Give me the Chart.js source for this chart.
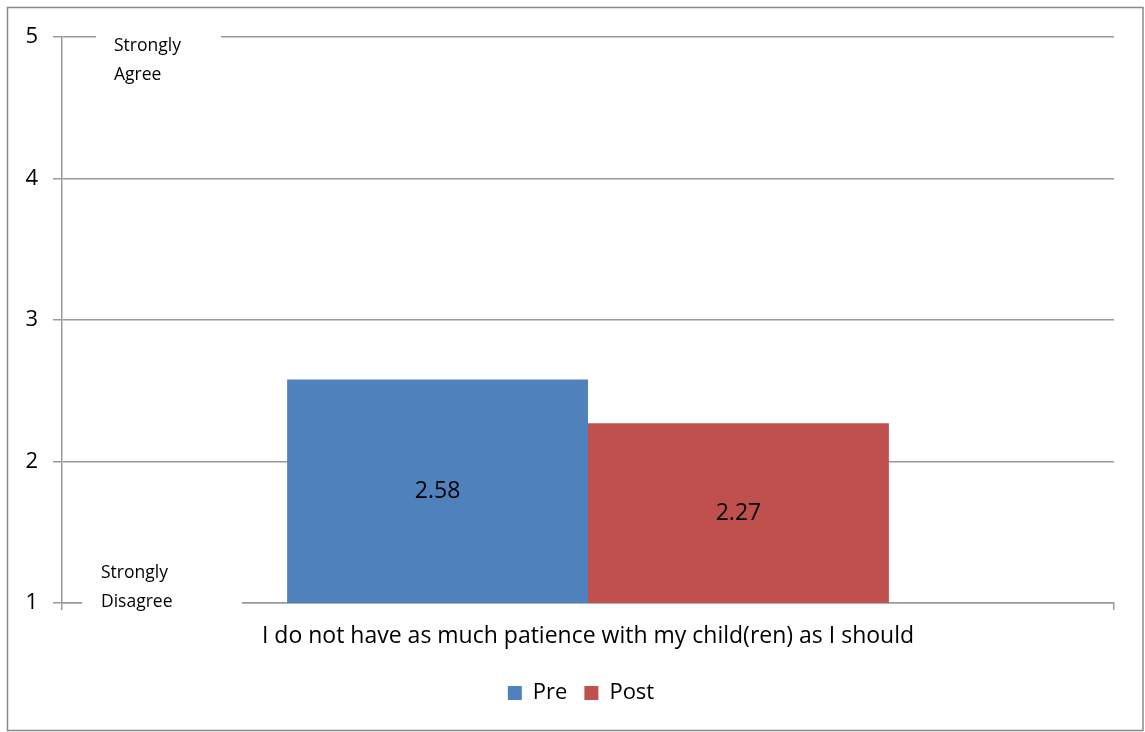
<!DOCTYPE html>
<html>
<head>
<meta charset="utf-8">
<script src="https://cdn.jsdelivr.net/npm/chart.js@4"></script>
<style>
  body { margin: 0; background: #fff; }
  #wrap { position: absolute; left: 0; top: 0; width: 1145px; height: 732px; }
</style>
</head>
<body>
<div id="wrap"><canvas id="chart"></canvas></div>
<script>
// data
var categories = ['I do not have as much patience with my child(ren) as I should'];
var seriesNames = ['Pre', 'Post'];
var preValues = [2.58];
var postValues = [2.27];
var yTicks = [1, 2, 3, 4, 5];
var scaleNotes = [
	{ lines: ['Strongly', 'Agree'], value: 5 },
	{ lines: ['Strongly', 'Disagree'], value: 1 }
];

var FONT = '"Open Sans", "Noto Sans", sans-serif';
var gridGray = '#9a9a9a';

// outer frame, like the office chart border
var framePlugin = {
	id: 'frame',
	beforeDraw: function(chart) {
		var ctx = chart.ctx;
		ctx.save();
		ctx.strokeStyle = '#8a8a8a';
		ctx.lineWidth = 1.5;
		ctx.strokeRect(7.5, 7.5, 1135.5, 723);
		ctx.restore();
	}
};

// legend in the original sits under the plot centre, not the canvas centre
var legendShift = {
	id: 'legendShift',
	afterLayout: function(chart) {
		var lg = chart.legend;
		if (lg) {
			lg.left += 24;
			lg.right += 24;
		}
	}
};

// value written in the middle of each bar (bars run below the axis min, so use the chart bottom)
var barLabels = {
	id: 'barLabels',
	afterDatasetsDraw: function(chart) {
		var ctx = chart.ctx;
		var bottom = chart.chartArea.bottom;
		ctx.save();
		ctx.font = '23px ' + FONT;
		ctx.fillStyle = '#000';
		ctx.textAlign = 'center';
		ctx.textBaseline = 'middle';
		chart.data.datasets.forEach(function(ds, i) {
			chart.getDatasetMeta(i).data.forEach(function(bar, j) {
				var mid = (bar.y + bottom) / 2;
				ctx.fillText(ds.data[j].toFixed(2), bar.x, mid);
			});
		});
		ctx.restore();
	}
};

// "Strongly Agree" / "Strongly Disagree" boxes sitting on the grid lines
var notes = {
	id: 'notes',
	afterDraw: function(chart) {
		var ctx = chart.ctx;
		var y = chart.scales.y;
		ctx.save();
		ctx.font = '17.5px ' + FONT;
		ctx.textBaseline = 'middle';
		var yTop = y.getPixelForValue(scaleNotes[0].value);
		ctx.fillStyle = '#fff';
		ctx.fillRect(96, yTop - 3, 125, 60);
		ctx.fillStyle = '#000';
		ctx.fillText(scaleNotes[0].lines[0], 114, yTop + 9);
		ctx.fillText(scaleNotes[0].lines[1], 114, yTop + 38);
		var yBot = y.getPixelForValue(scaleNotes[1].value);
		ctx.fillStyle = '#fff';
		ctx.fillRect(82, yBot - 3, 160, 6);
		ctx.fillStyle = '#000';
		ctx.fillText(scaleNotes[1].lines[0], 101, yBot - 30);
		ctx.fillText(scaleNotes[1].lines[1], 101, yBot - 1);
		ctx.restore();
	}
};

new Chart(document.getElementById('chart'), {
	type: 'bar',
	data: {
		labels: categories,
		datasets: [
			{ label: seriesNames[0], data: preValues, backgroundColor: '#4F81BD' },
			{ label: seriesNames[1], data: postValues, backgroundColor: '#C0504D' }
		]
	},
	options: {
		responsive: true,
		maintainAspectRatio: false,
		animation: false,
		categoryPercentage: 0.572,
		barPercentage: 1,
		layout: { padding: { left: 0, right: 31, top: 37, bottom: 18 } },
		plugins: {
			legend: {
				position: 'bottom',
				labels: {
					font: { family: FONT, size: 22 },
					color: '#000',
					boxWidth: 14,
					boxHeight: 14,
					padding: 17
				}
			},
			tooltip: { enabled: false }
		},
		scales: {
			x: {
				afterFit: function(s) { s.height = 62; },
				grid: {
					offset: true,
					drawOnChartArea: false,
					color: gridGray,
					lineWidth: 1.5,
					tickLength: 7
				},
				border: { color: gridGray, width: 1.5 },
				ticks: {
					font: { family: FONT, size: 23 },
					color: '#000',
					padding: 13
				}
			},
			y: {
				min: 1,
				max: 5,
				afterFit: function(s) { s.width = 62; },
				afterBuildTicks: function(s) {
					s.ticks = yTicks.map(function(v) { return { value: v }; });
				},
				grid: { color: gridGray, lineWidth: 1.5, tickLength: 9 },
				border: { color: gridGray, width: 1.5 },
				ticks: {
					font: { family: FONT, size: 22 },
					color: '#000',
					padding: 15
				}
			}
		}
	},
	plugins: [framePlugin, legendShift, barLabels, notes]
});
</script>
</body>
</html>
